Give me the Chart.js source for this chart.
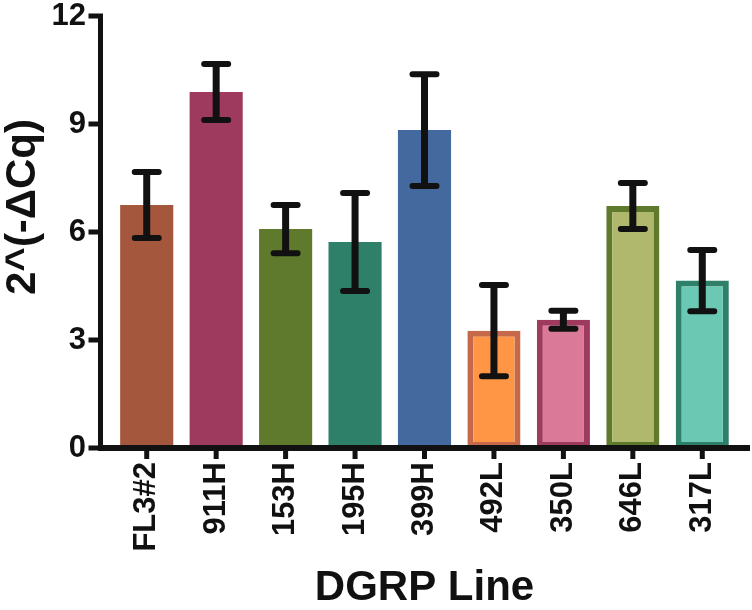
<!DOCTYPE html>
<html>
<head>
<meta charset="utf-8">
<script src="https://cdn.jsdelivr.net/npm/chart.js@4/dist/chart.umd.min.js"></script>
<style>
  html, body { margin: 0; padding: 0; background: #fff; }
  #wrap { width: 752px; height: 610px; }
</style>
</head>
<body>
<div id="wrap"><canvas id="chart" width="752" height="610"></canvas></div>
<script>
/* ---- Data ---- */
const lines = ['FL3#2', '911H', '153H', '195H', '399H', '492L', '350L', '646L', '317L'];
const means = [6.75, 9.89, 6.08, 5.72, 8.83, 3.26, 3.56, 6.72, 4.65];
const errors = [0.92, 0.78, 0.67, 1.36, 1.55, 1.27, 0.25, 0.64, 0.85];
const yTicks = [0, 3, 6, 9, 12];

const fills = ['#A5573D', '#9D3A5D', '#5F7A2D', '#2E8168', '#43699E', '#FF9645', '#DA7A98', '#B0B86E', '#6BC8B2'];
const borders = ['#A5573D', '#9D3A5D', '#5F7A2D', '#2E8168', '#43699E', '#C5694A', '#9D3A5D', '#5F7A2D', '#2E8168'];
const borderWidths = [0, 0, 0, 0, 0, 6, 6, 6, 6];

const FONT = "'Liberation Sans', Arial, sans-serif";
const INK = '#111';

/* ---- Axis lines, ticks, error bars, y title ---- */
const decor = {
  id: 'decor',
  afterDatasetsDraw(chart) {
    const { ctx, chartArea, scales: { x, y } } = chart;
    const meta = chart.getDatasetMeta(0);
    ctx.save();
    ctx.strokeStyle = INK;

    // error bars
    meta.data.forEach((bar, i) => {
      const top = y.getPixelForValue(means[i] + errors[i]);
      const bot = y.getPixelForValue(means[i] - errors[i]);
      ctx.lineCap = 'butt';
      ctx.lineWidth = 7;
      ctx.beginPath();
      ctx.moveTo(bar.x, top);
      ctx.lineTo(bar.x, bot);
      ctx.stroke();
      ctx.lineCap = 'round';
      ctx.lineWidth = 6;
      ctx.beginPath();
      ctx.moveTo(bar.x - 12, top); ctx.lineTo(bar.x + 12, top);
      ctx.moveTo(bar.x - 12, bot); ctx.lineTo(bar.x + 12, bot);
      ctx.stroke();
    });

    // y axis
    const ax = chartArea.left - 11.5;
    ctx.lineCap = 'butt';
    ctx.lineWidth = 5;
    ctx.beginPath();
    ctx.moveTo(ax, y.getPixelForValue(12) - 2.5);
    ctx.lineTo(ax, y.getPixelForValue(0) + 3);
    yTicks.forEach(v => {
      const py = y.getPixelForValue(v);
      ctx.moveTo(ax - 12, py);
      ctx.lineTo(ax, py);
    });
    ctx.stroke();

    // x axis
    const ay = y.getPixelForValue(0);
    ctx.lineWidth = 6;
    ctx.beginPath();
    ctx.moveTo(ax - 2.5, ay);
    ctx.lineTo(750, ay);
    ctx.stroke();
    ctx.lineWidth = 5;
    ctx.beginPath();
    lines.forEach((_, i) => {
      const px = x.getPixelForValue(i);
      ctx.moveTo(px, ay);
      ctx.lineTo(px, ay + 11);
    });
    ctx.stroke();

    // y title
    ctx.translate(23, 207);
    ctx.rotate(-Math.PI / 2);
    ctx.fillStyle = INK;
    ctx.font = 'bold 42px ' + FONT;
    ctx.textAlign = 'center';
    ctx.textBaseline = 'middle';
    ctx.fillText('2^(-\u0394Cq)', 0, 0);
    ctx.restore();
  }
};

new Chart(document.getElementById('chart'), {
  type: 'bar',
  data: {
    labels: lines,
    datasets: [{
      data: means,
      backgroundColor: fills,
      borderColor: borders,
      borderWidth: borderWidths,
      borderSkipped: false,
      categoryPercentage: 1,
      barPercentage: 0.765,
    }]
  },
  options: {
    responsive: false,
    animation: false,
    layout: { padding: { top: 16, right: 15, left: 0, bottom: 0 } },
    plugins: { legend: { display: false }, tooltip: { enabled: false } },
    scales: {
      x: {
        grid: { display: false, drawTicks: false },
        border: { display: false },
        afterFit: s => { s.height = 162; s.paddingLeft = 0; s.paddingRight = 0; },
        ticks: {
          autoSkip: false, minRotation: 90, maxRotation: 90, padding: 14,
          color: INK, font: { family: FONT, size: 31, weight: 'bold' }
        },
        title: {
          display: true, text: 'DGRP Line', color: INK,
          font: { family: FONT, size: 42, weight: 'bold', lineHeight: 1 },
          padding: { top: 0, bottom: 1 }
        }
      },
      y: {
        min: 0, max: 12,
        grid: { display: false, drawTicks: false },
        border: { display: false },
        afterFit: s => { s.width = 112; s.paddingTop = 0; s.paddingBottom = 0; },
        ticks: {
          stepSize: 3, padding: 26, color: INK,
          font: { family: FONT, size: 31, weight: 'bold' }
        }
      }
    }
  },
  plugins: [decor]
});
</script>
</body>
</html>
